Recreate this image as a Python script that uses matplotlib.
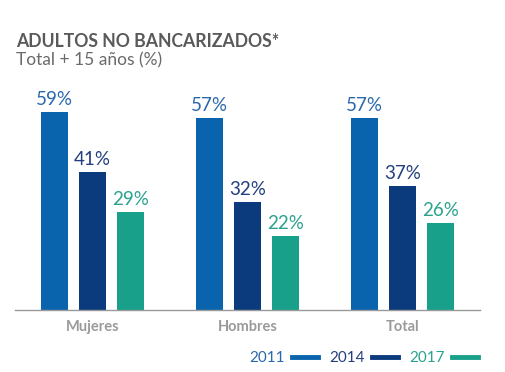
import numpy as np
import matplotlib.pyplot as plt
from matplotlib.lines import Line2D

plt.rcParams['font.family'] = ['Lato', 'DejaVu Sans']

categories = ['Mujeres', 'Hombres', 'Total']
years = ['2011', '2014', '2017']
v2011 = [59, 57, 57]
v2014 = [41, 32, 37]
v2017 = [29, 22, 26]
colors = ['#0a64ad', '#0b3a7d', '#19a08a']
label_colors = ['#2a68ab', '#22407f', '#2aa28e']

fig = plt.figure(figsize=(5.06, 3.72), dpi=100)
# axes placed in pixel terms: x 15..480, baseline at y=310, top at y=80
ax = fig.add_axes([15/506, (372-310)/372, 465/506, 230/372])

x = np.arange(len(categories))
offs = [-0.248, 0, 0.248]
width = 0.174
for vals, off, c, lc in zip([v2011, v2014, v2017], offs, colors, label_colors):
    bars = ax.bar(x + off, vals, width, color=c)
    for b, v in zip(bars, vals):
        ax.text(b.get_x() + b.get_width()/2, v + 1.2, f'{v}%', ha='center', va='bottom',
                fontsize=13.5, color=lc)

ax.set_xlim(-0.5, 2.5)
ax.set_ylim(0, 68.4)
for s in ['top', 'right', 'left']:
    ax.spines[s].set_visible(False)
ax.spines['bottom'].set_color('#999999')
ax.spines['bottom'].set_linewidth(1)
ax.set_yticks([])
ax.set_xticks(x)
ax.set_xticklabels(categories, fontsize=10.5, fontweight='bold', color='#9a9a9a')
ax.tick_params(axis='x', length=0, pad=7)

fig.text(16/506, 1 - 47/372, 'ADULTOS NO BANCARIZADOS*', fontsize=12.7, fontweight='bold',
         color='#5a5a5a', ha='left', va='baseline')
fig.text(16/506, 1 - 65/372, 'Total + 15 años (%)', fontsize=12.5,
         color='#6a6a6a', ha='left', va='baseline')

handles = [Line2D([], [], color=c, lw=3.5) for c in colors]
leg = fig.legend(handles, years, loc='center right', bbox_to_anchor=(478/506, 1 - 358/372),
                 ncol=3, frameon=False, markerfirst=False, handlelength=1.7,
                 handletextpad=0.5, columnspacing=0.7, fontsize=11,
                 borderpad=0, borderaxespad=0)
for t, c in zip(leg.get_texts(), label_colors):
    t.set_color(c)

fig.savefig('out.png', dpi=100)
